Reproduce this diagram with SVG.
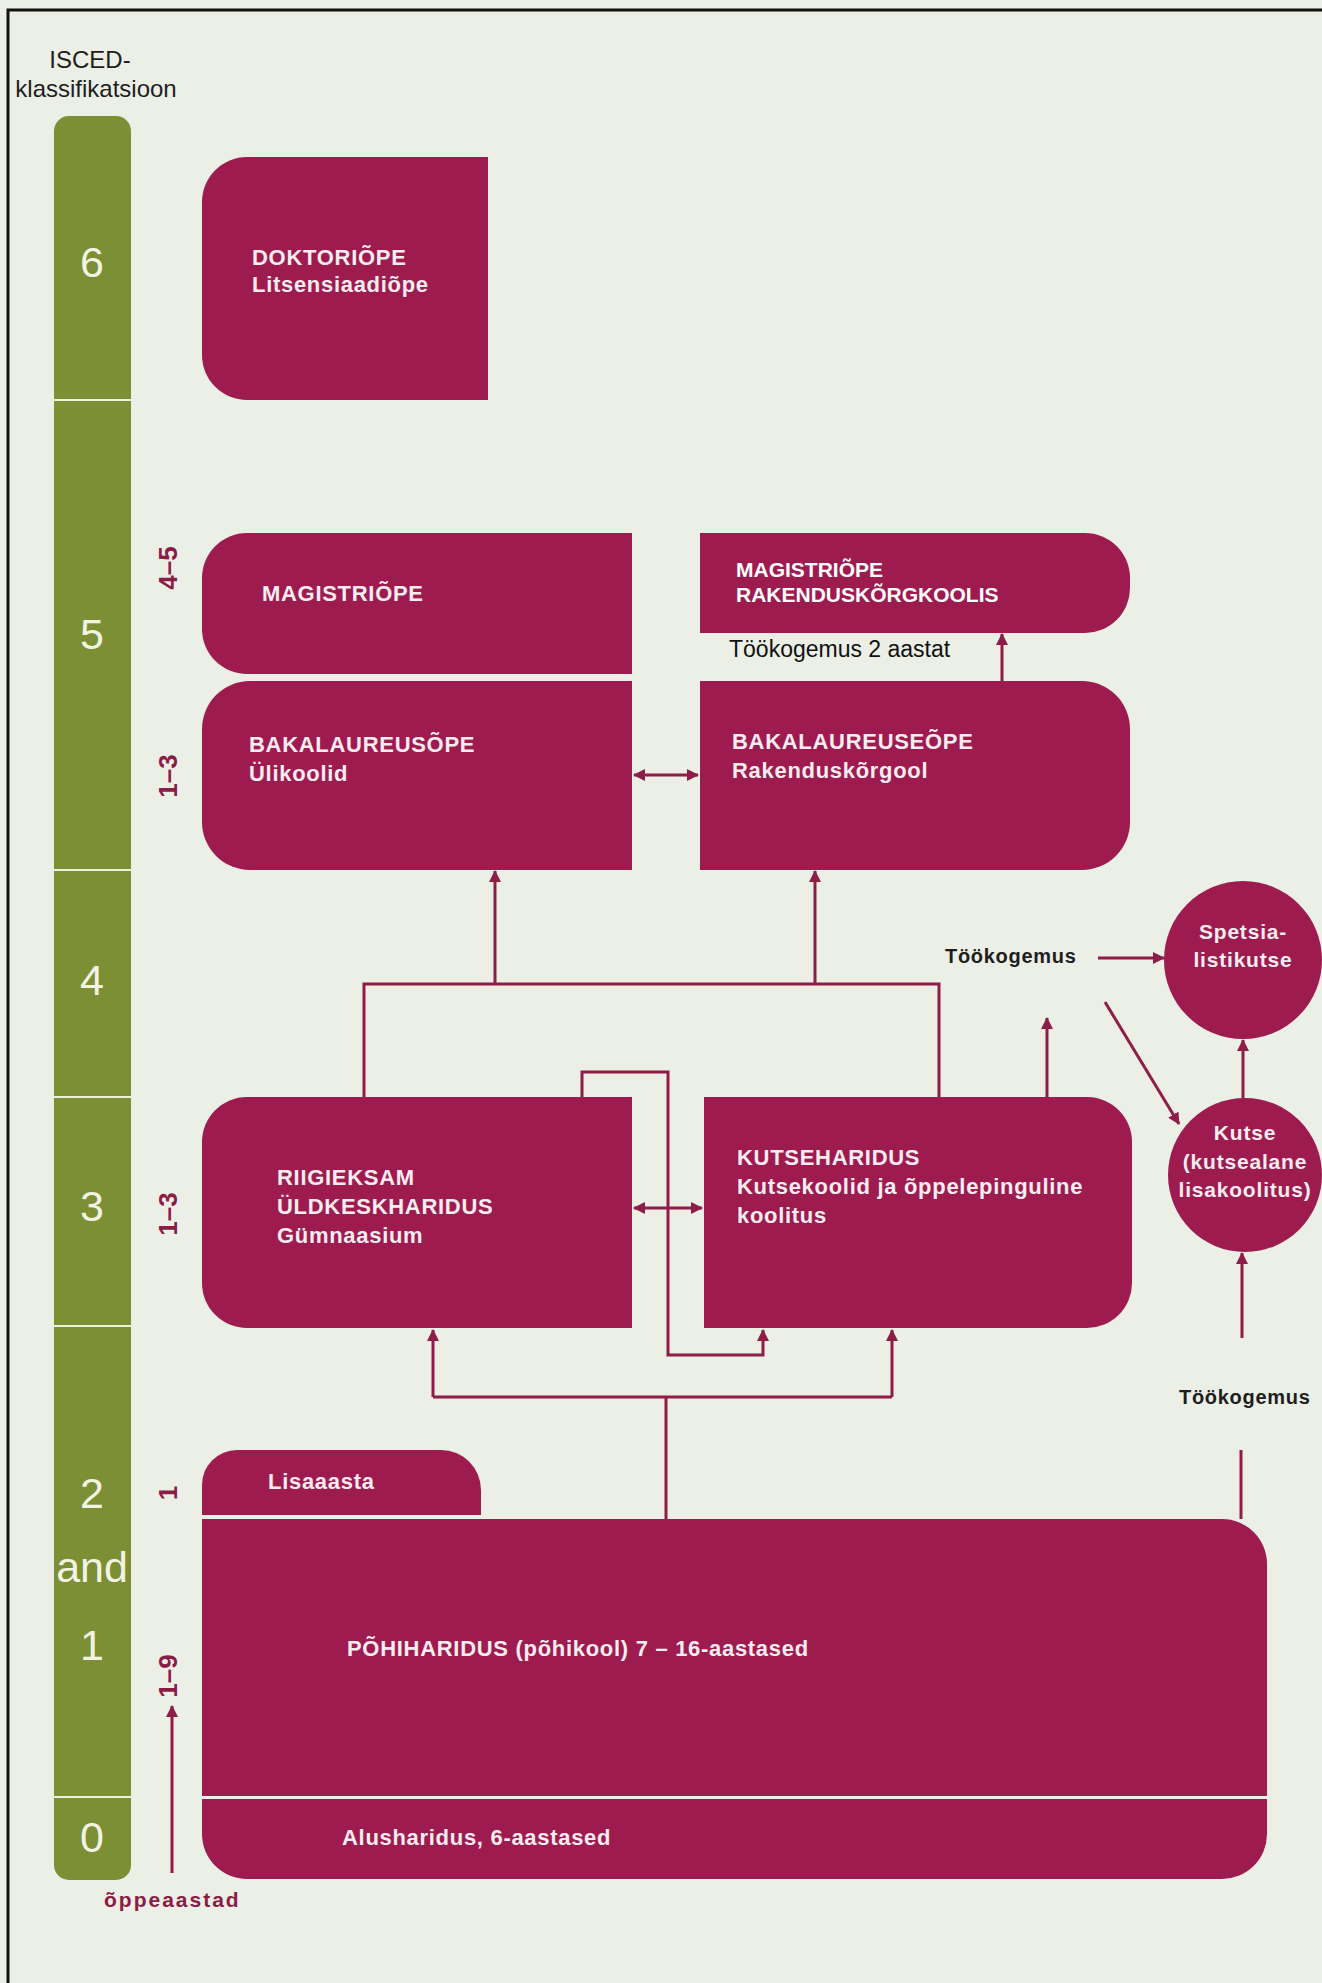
<svg xmlns="http://www.w3.org/2000/svg" width="1322" height="1983" viewBox="0 0 1322 1983">
<defs>
<style>
.bg{fill:#ebefe5}
.box{fill:#9e1b4f}
.bt{font-family:"Liberation Sans",Arial,sans-serif;font-weight:bold;font-size:22px;letter-spacing:0.7px;fill:#f7edf1}
.bw{font-family:"Liberation Sans",Arial,sans-serif;font-weight:bold;font-size:21px;fill:#ffffff}
.ct{font-family:"Liberation Sans",Arial,sans-serif;font-weight:bold;font-size:21px;letter-spacing:0.8px;fill:#f7edf1;text-anchor:middle}
.lvl{font-family:"Liberation Sans",Arial,sans-serif;font-size:43px;fill:#f3f3e2;text-anchor:middle}
.yr{font-family:"Liberation Sans",Arial,sans-serif;font-weight:bold;font-size:26px;fill:#8a1c46;text-anchor:middle}
.dk{font-family:"Liberation Sans",Arial,sans-serif;font-weight:bold;font-size:20px;letter-spacing:0.7px;fill:#1e1e1e}
.hd{font-family:"Liberation Sans",Arial,sans-serif;font-size:24px;fill:#1e1e1e;text-anchor:middle}
.ln{fill:none;stroke:#8e1d49;stroke-width:3}
.ar{fill:none;stroke:#8e1d49;stroke-width:3;marker-end:url(#ah)}
.ar2{fill:none;stroke:#8e1d49;stroke-width:3;marker-end:url(#ah);marker-start:url(#ahs)}
.sep{stroke:#eef0dc;stroke-width:2}
</style>
<marker id="ah" viewBox="0 0 12 12" refX="11" refY="6" markerWidth="12" markerHeight="12" markerUnits="userSpaceOnUse" orient="auto">
<path d="M0,0 L12,6 L0,12 z" fill="#8e1d49"/>
</marker>
<marker id="ahs" viewBox="0 0 12 12" refX="1" refY="6" markerWidth="12" markerHeight="12" markerUnits="userSpaceOnUse" orient="auto">
<path d="M12,0 L0,6 L12,12 z" fill="#8e1d49"/>
</marker>
</defs>
<rect class="bg" x="0" y="0" width="1322" height="1983"/>
<path d="M8,1983 V10 H1322" fill="none" stroke="#111" stroke-width="3"/>

<g id="isced-scale">
<text class="hd" x="90" y="68">ISCED-</text>
<text class="hd" x="96" y="97">klassifikatsioon</text>
<rect x="54" y="116" width="77" height="1764" rx="15" fill="#7c8f35"/>
<line class="sep" x1="54" y1="400" x2="131" y2="400"/>
<line class="sep" x1="54" y1="870" x2="131" y2="870"/>
<line class="sep" x1="54" y1="1097" x2="131" y2="1097"/>
<line class="sep" x1="54" y1="1326" x2="131" y2="1326"/>
<line class="sep" x1="54" y1="1797" x2="131" y2="1797"/>
<text class="lvl" x="92" y="277">6</text>
<text class="lvl" x="92" y="649">5</text>
<text class="lvl" x="92" y="995">4</text>
<text class="lvl" x="92" y="1221">3</text>
<text class="lvl" x="92" y="1508">2</text>
<text class="lvl" x="92" y="1582">and</text>
<text class="lvl" x="92" y="1660">1</text>
<text class="lvl" x="92" y="1852">0</text>
</g>

<g id="years">
<text class="yr" transform="translate(168,568) rotate(-90)" y="9">4–5</text>
<text class="yr" transform="translate(168,776) rotate(-90)" y="9">1–3</text>
<text class="yr" transform="translate(168,1214) rotate(-90)" y="9">1–3</text>
<text class="yr" transform="translate(168,1493) rotate(-90)" y="9">1</text>
<text class="yr" transform="translate(168,1676) rotate(-90)" y="9">1–9</text>
<text x="104" y="1907" font-family="Liberation Sans, Arial, sans-serif" font-weight="bold" font-size="21" letter-spacing="2" fill="#8a1c46">õppeaastad</text>
</g>

<g id="connectors">
<line class="ar2" x1="634" y1="775" x2="698" y2="775"/>
<line class="ar" x1="1002" y1="681" x2="1002" y2="634"/>
<path class="ln" d="M364,1097 V984 H939 V1097"/>
<line class="ar" x1="495" y1="984" x2="495" y2="871"/>
<line class="ar" x1="815" y1="984" x2="815" y2="871"/>
<line class="ar" x1="1047" y1="1097" x2="1047" y2="1018"/>
<line class="ar" x1="1098" y1="958" x2="1164" y2="958"/>
<line class="ar" x1="1105" y1="1002" x2="1179" y2="1124"/>
<line class="ar" x1="1243" y1="1098" x2="1243" y2="1040"/>
<line class="ar" x1="1242" y1="1338" x2="1242" y2="1253"/>
<line class="ln" x1="1241" y1="1450" x2="1241" y2="1519"/>
<line class="ar2" x1="634" y1="1208" x2="702" y2="1208"/>
<path class="ar" d="M582,1097 V1072 H668 V1355 H763 V1330"/>
<path class="ln" d="M666,1519 V1397"/>
<path class="ln" d="M433,1397 H892"/>
<line class="ar" x1="433" y1="1397" x2="433" y2="1330"/>
<line class="ar" x1="892" y1="1397" x2="892" y2="1330"/>
<line class="ar" x1="172" y1="1873" x2="172" y2="1706"/>
</g>

<g id="doktoriope">
<path class="box" d="M247,157 H488 V400 H247 A45,45 0 0 1 202,355 V202 A45,45 0 0 1 247,157 Z"/>
<text class="bt" x="252" y="265">DOKTORIÕPE</text>
<text class="bt" x="252" y="292">Litsensiaadiõpe</text>
</g>

<g id="magistriope">
<path class="box" d="M247,533 H632 V674 H247 A45,45 0 0 1 202,629 V578 A45,45 0 0 1 247,533 Z"/>
<text class="bt" x="262" y="601">MAGISTRIÕPE</text>
</g>

<g id="bakalaureusope">
<path class="box" d="M250,681 H632 V870 H250 A48,48 0 0 1 202,822 V729 A48,48 0 0 1 250,681 Z"/>
<text class="bt" x="249" y="752">BAKALAUREUSÕPE</text>
<text class="bt" x="249" y="781">Ülikoolid</text>
</g>

<g id="magistriope-rakenduskorgkoolis">
<path class="box" d="M700,533 H1085 A45,45 0 0 1 1130,578 V588 A45,45 0 0 1 1085,633 H700 Z"/>
<text class="bw" x="736" y="577">MAGISTRIÕPE</text>
<text class="bw" x="736" y="602">RAKENDUSKÕRGKOOLIS</text>
<text x="729" y="657" font-family="Liberation Sans, Arial, sans-serif" font-size="23" fill="#111">Töökogemus 2 aastat</text>
</g>

<g id="bakalaureuseope">
<path class="box" d="M700,681 H1082 A48,48 0 0 1 1130,729 V822 A48,48 0 0 1 1082,870 H700 Z"/>
<text class="bt" x="732" y="749">BAKALAUREUSEÕPE</text>
<text class="bt" x="732" y="778">Rakenduskõrgool</text>
</g>

<g id="riigieksam">
<path class="box" d="M247,1097 H632 V1328 H247 A45,45 0 0 1 202,1283 V1142 A45,45 0 0 1 247,1097 Z"/>
<text class="bt" x="277" y="1185">RIIGIEKSAM</text>
<text class="bt" x="277" y="1214">ÜLDKESKHARIDUS</text>
<text class="bt" x="277" y="1243">Gümnaasium</text>
</g>

<g id="kutseharidus">
<path class="box" d="M704,1097 H1087 A45,45 0 0 1 1132,1142 V1283 A45,45 0 0 1 1087,1328 H704 Z"/>
<text class="bt" x="737" y="1165">KUTSEHARIDUS</text>
<text class="bt" x="737" y="1194">Kutsekoolid ja õppelepinguline</text>
<text class="bt" x="737" y="1223">koolitus</text>
</g>

<g id="tookogemus-labels">
<text class="dk" x="945" y="963">Töökogemus</text>
<text class="dk" x="1179" y="1404">Töökogemus</text>
</g>

<g id="spetsialistikutse">
<circle class="box" cx="1243" cy="960" r="79"/>
<text class="ct" x="1243" y="939">Spetsia-</text>
<text class="ct" x="1243" y="967">listikutse</text>
</g>

<g id="kutse">
<circle class="box" cx="1245" cy="1175" r="77"/>
<text class="ct" x="1245" y="1140">Kutse</text>
<text class="ct" x="1245" y="1169">(kutsealane</text>
<text class="ct" x="1245" y="1197">lisakoolitus)</text>
</g>

<g id="lisaaasta">
<path class="box" d="M237,1450 H441 A40,40 0 0 1 481,1490 V1515 H202 V1485 A35,35 0 0 1 237,1450 Z"/>
<text class="bt" x="268" y="1489">Lisaaasta</text>
</g>

<g id="pohiharidus">
<path class="box" d="M202,1519 H1222 A45,45 0 0 1 1267,1564 V1796 H202 Z"/>
<text class="bt" x="347" y="1656">PÕHIHARIDUS (põhikool) 7 – 16-aastased</text>
</g>

<g id="alusharidus">
<path class="box" d="M202,1799 H1267 V1834 A45,45 0 0 1 1222,1879 H247 A45,45 0 0 1 202,1834 Z"/>
<text class="bt" x="342" y="1845">Alusharidus, 6-aastased</text>
</g>
</svg>
